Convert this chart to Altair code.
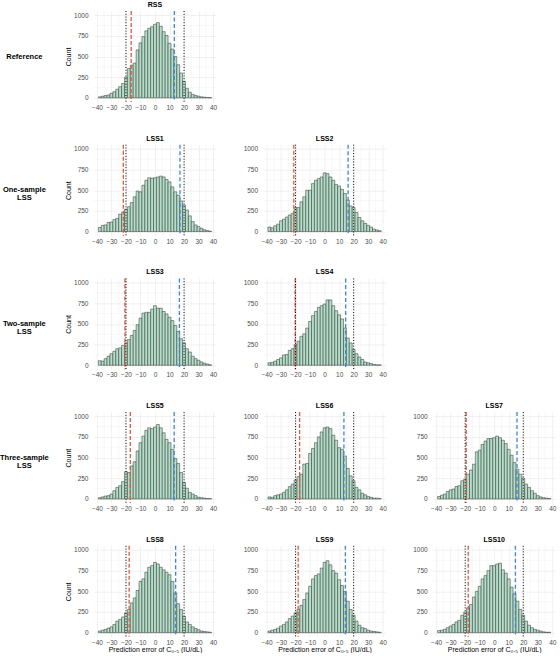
import altair as alt
import pandas as pd

# Histogram bins of width 2, centred on even values from -38 to 38
bin_centers = list(range(-38, 39, 2))

rss_counts = [12, 20, 28, 35, 55, 75, 105, 135, 175, 250, 355, 395, 420, 580, 665, 740, 810, 840, 860, 890,
              910, 865, 800, 755, 660, 590, 500, 400, 300, 200, 115, 68, 42, 28, 20, 12, 8, 5, 3]
lss1_counts = [50, 75, 80, 110, 115, 145, 160, 210, 230, 270, 300, 350, 420, 490, 480, 560, 620, 650, 645, 650,
               660, 670, 660, 630, 600, 540, 480, 440, 370, 320, 260, 190, 120, 80, 60, 40, 22, 12, 5]
lss2_counts = [55, 45, 70, 90, 130, 150, 175, 200, 220, 290, 290, 360, 420, 500, 500, 580, 620, 640, 660, 710,
               700, 660, 620, 570, 550, 510, 460, 380, 310, 290, 230, 170, 130, 100, 75, 55, 30, 20, 10]
lss3_counts = [55, 50, 80, 110, 140, 170, 200, 210, 240, 270, 310, 360, 420, 490, 570, 630, 640, 640, 680, 720,
               690, 690, 650, 620, 580, 540, 480, 410, 320, 270, 200, 160, 110, 80, 60, 40, 25, 15, 5]
lss4_counts = [30, 35, 50, 70, 90, 125, 130, 180, 200, 250, 290, 350, 380, 450, 530, 600, 650, 700, 720, 740,
               790, 790, 720, 660, 610, 560, 450, 330, 270, 190, 140, 100, 70, 40, 30, 20, 10, 5, 5]
lss5_counts = [15, 25, 35, 40, 60, 100, 140, 160, 210, 330, 320, 400, 450, 580, 680, 760, 830, 860, 850, 870,
               900, 860, 800, 720, 680, 600, 490, 430, 320, 200, 130, 80, 60, 40, 20, 15, 10, 5, 5]
lss6_counts = [25, 20, 40, 50, 60, 80, 110, 150, 180, 230, 270, 300, 420, 430, 550, 610, 680, 750, 810, 860,
               870, 850, 770, 710, 620, 600, 520, 370, 280, 220, 140, 110, 70, 50, 30, 20, 10, 10, 5]
lss7_counts = [30, 45, 60, 90, 110, 120, 150, 160, 220, 240, 300, 350, 420, 570, 590, 660, 700, 730, 730, 740,
               760, 740, 710, 670, 600, 530, 440, 360, 300, 250, 180, 140, 100, 70, 40, 25, 15, 10, 5]
lss8_counts = [20, 30, 40, 55, 70, 100, 140, 160, 190, 240, 280, 360, 420, 510, 620, 650, 730, 790, 810, 850,
               830, 790, 760, 730, 700, 620, 480, 350, 280, 200, 130, 100, 70, 50, 35, 20, 15, 10, 5]
lss9_counts = [20, 30, 40, 55, 80, 100, 130, 170, 200, 240, 280, 330, 400, 480, 560, 650, 690, 710, 780, 850,
               870, 820, 750, 720, 640, 570, 500, 380, 280, 210, 140, 90, 60, 50, 30, 20, 15, 10, 5]
lss10_counts = [25, 30, 40, 60, 80, 100, 130, 150, 210, 250, 300, 340, 430, 500, 560, 650, 690, 750, 810, 810,
                830, 840, 760, 720, 650, 550, 470, 380, 280, 210, 140, 90, 60, 40, 30, 20, 10, 5, 5]

panel_titles = ["RSS", "LSS1", "LSS2", "LSS3", "LSS4", "LSS5", "LSS6", "LSS7", "LSS8", "LSS9", "LSS10"]
panel_counts = [rss_counts, lss1_counts, lss2_counts, lss3_counts, lss4_counts, lss5_counts,
                lss6_counts, lss7_counts, lss8_counts, lss9_counts, lss10_counts]
lower_limits = [-16.4, -21.8, -21.2, -20.7, -20.3, -17.0, -17.2, -19.3, -17.8, -18.2, -17.9]
upper_limits = [13.3, 17.2, 16.2, 16.8, 14.5, 13.2, 13.3, 15.7, 14.2, 14.3, 14.6]
reference_bounds = [-20, 20]

# Panels per row, with the label shown left of each row
grid_rows = [["RSS"], ["LSS1", "LSS2"], ["LSS3", "LSS4"], ["LSS5", "LSS6", "LSS7"], ["LSS8", "LSS9", "LSS10"]]
row_labels = ["Reference", "One-sample\nLSS", "Two-sample\nLSS", "Three-sample\nLSS", ""]

x_ticks = [-40, -30, -20, -10, 0, 10, 20, 30, 40]
y_ticks = [0, 250, 500, 750, 1000]
x_minor = [-35, -25, -15, -5, 5, 15, 25, 35]
y_minor = [125, 375, 625, 875]
x_title = "Prediction error of C\u2080.\u2085 (IU/dL)"

W, H = 122, 91
FONT = "Liberation Sans"
BAR_FILL = "#b3dfc9"
BAR_EDGE = "#303030"
GRID = "#ebebeb"
RED = "#e4573d"
BLUE = "#3a87dd"

x_scale = alt.Scale(domain=[-42, 42], nice=False, zero=False)
y_scale = alt.Scale(domain=[-50, 1050], nice=False)


def make_panel(name, counts, lower, upper, first_col, bottom_row, row_label):
    hist = pd.DataFrame({
        "error": [c - 1 for c in bin_centers],
        "error_end": [c + 1 for c in bin_centers],
        "count": counts,
    })
    x_axis = alt.Axis(values=x_ticks, title=x_title if bottom_row else None,
                      labelPadding=2.5, titlePadding=0, labelFlush=False, labelOverlap=False)
    y_axis = alt.Axis(values=y_ticks, format="d", title="Count" if first_col else None,
                      labelPadding=6, titlePadding=2, labelOverlap=False)
    minor_v = alt.Chart(pd.DataFrame({"error": x_minor})).mark_rule(
        color=GRID, strokeWidth=0.35).encode(x=alt.X("error:Q", scale=x_scale, axis=x_axis))
    minor_h = alt.Chart(pd.DataFrame({"count": y_minor})).mark_rule(
        color=GRID, strokeWidth=0.35).encode(y=alt.Y("count:Q", scale=y_scale, axis=y_axis))
    bars = alt.Chart(hist).mark_bar(fill=BAR_FILL, stroke=BAR_EDGE, strokeWidth=0.5).encode(
        x=alt.X("error:Q", scale=x_scale, axis=x_axis),
        x2="error_end:Q",
        y=alt.Y("count:Q", scale=y_scale, axis=y_axis),
        y2=alt.datum(0),
    )
    low_rule = alt.Chart(pd.DataFrame({"error": [lower]})).mark_rule(
        color=RED, strokeDash=[4, 2], strokeWidth=1.3).encode(x=alt.X("error:Q", axis=x_axis))
    high_rule = alt.Chart(pd.DataFrame({"error": [upper]})).mark_rule(
        color=BLUE, strokeDash=[4, 2.5], strokeWidth=1.3).encode(x=alt.X("error:Q", axis=x_axis))
    ref_rule = alt.Chart(pd.DataFrame({"error": reference_bounds})).mark_rule(
        color="black", strokeDash=[1, 1.8], strokeWidth=1).encode(x=alt.X("error:Q", axis=x_axis))
    layers = [minor_v, minor_h, bars, low_rule, high_rule, ref_rule]
    if row_label:
        label = alt.Chart(pd.DataFrame({"group": [row_label]})).mark_text(
            lineBreak="\n", fontWeight="bold", fontSize=7.5, lineHeight=8,
            align="center", baseline="middle", color="black",
        ).encode(x=alt.value(-69.6), y=alt.value(H / 2), text="group:N")
        layers.append(label)
    return alt.layer(*layers).properties(
        width=W, height=H,
        title=alt.TitleParams(name, fontSize=7, fontWeight="bold", frame="group",
                              anchor="middle", offset=2.5, color="black"),
    )


def blank_cell():
    return alt.Chart(pd.DataFrame({"error": [0]})).mark_point(opacity=0).encode(
        x=alt.X("error:Q", axis=None), y=alt.Y("error:Q", axis=None)
    ).properties(width=W, height=H)


lookup = dict(zip(panel_titles, zip(panel_counts, lower_limits, upper_limits)))
cells = []
for r, names in enumerate(grid_rows):
    for c in range(3):
        if c < len(names):
            counts, lo, hi = lookup[names[c]]
            cells.append(make_panel(names[c], counts, lo, hi, c == 0, r == len(grid_rows) - 1,
                                    row_labels[r] if c == 0 else ""))
        else:
            cells.append(blank_cell())

chart = alt.concat(
    *cells, columns=3, spacing={"row": 42.7, "column": 47.6}, bounds="flush", align="all"
).properties(
    padding={"left": 0, "top": 0, "right": 4, "bottom": 0}
).configure(font=FONT).configure_view(stroke=None).configure_axis(
    domain=False, ticks=False, tickSize=0, labelFont=FONT, titleFont=FONT,
    labelFontSize=6.5, labelColor="#4d4d4d", titleFontSize=7, titleFontWeight="normal",
    titleColor="black", gridColor=GRID, gridWidth=0.7, labelOverlap=False,
    labelSeparation=0, labelBound=False,
)

chart.save("out.html", embed_options={"renderer": "svg", "actions": False})
